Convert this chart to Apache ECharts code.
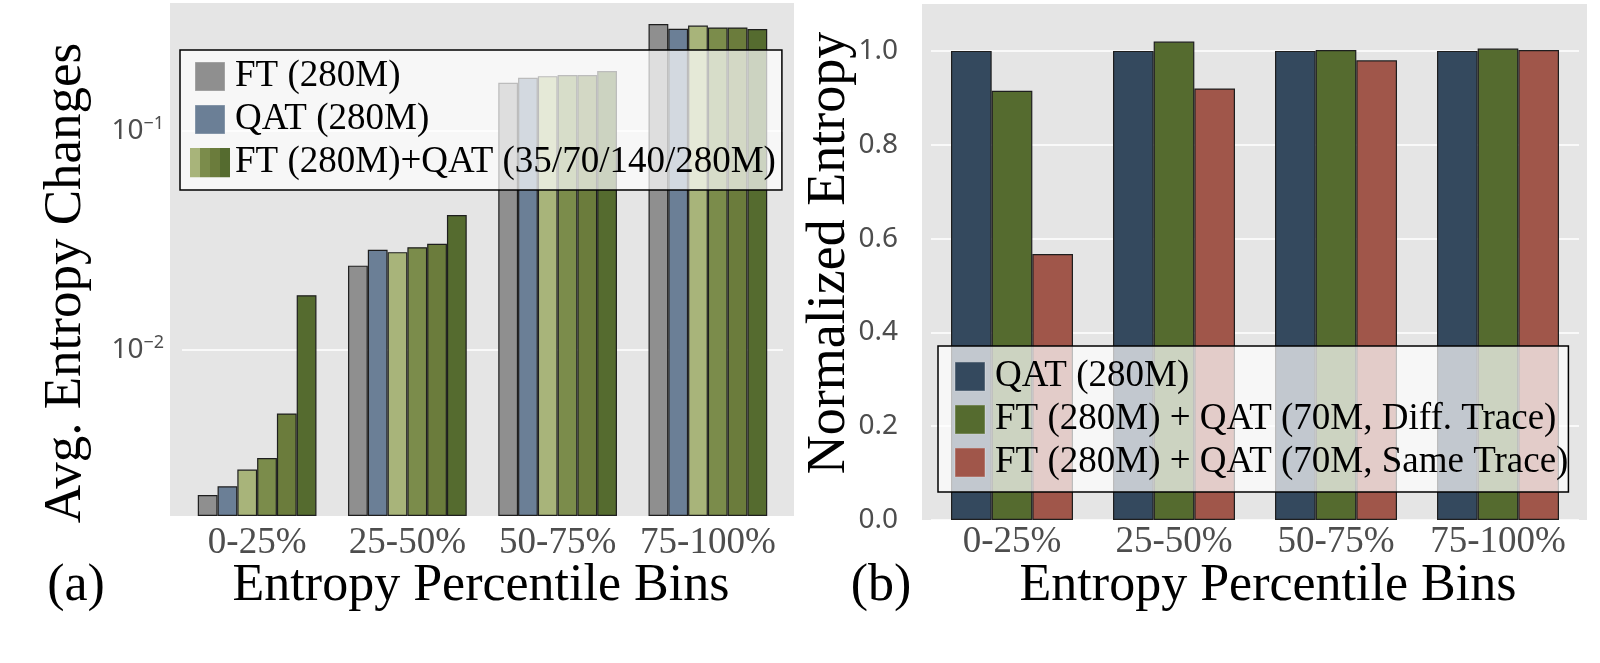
<!DOCTYPE html>
<html>
<head>
<meta charset="utf-8">
<script src="https://cdn.jsdelivr.net/npm/echarts@6/dist/echarts.min.js"></script>
</head>
<body style="margin:0;background:#fff">
<div id="container" style="width:1600px;height:663px"></div>
<script>
// ---- data ----
var bins = ['0-25%', '25-50%', '50-75%', '75-100%'];

// (a) avg. entropy changes (log scale)
var ftA    = [0.00218, 0.0243, 0.166, 0.308];
var qatA   = [0.00239, 0.0287, 0.175, 0.293];
var mix35  = [0.00285, 0.0280, 0.178, 0.303];
var mix70  = [0.00322, 0.0295, 0.180, 0.297];
var mix140 = [0.00514, 0.0306, 0.180, 0.297];
var mix280 = [0.0178, 0.0414, 0.188, 0.292];
var logTicks = [0.01, 0.1];
var logMinorTicks = [0.002, 0.003, 0.004, 0.005, 0.006, 0.007, 0.008, 0.009,
  0.02, 0.03, 0.04, 0.05, 0.06, 0.07, 0.08, 0.09, 0.2, 0.3];

// (b) normalized entropy
var qatB  = [1.0, 1.0, 1.0, 1.0];
var diffB = [0.915, 1.020, 1.002, 1.005];
var sameB = [0.567, 0.920, 0.980, 1.002];
var normTicks = [0, 0.2, 0.4, 0.6, 0.8, 1.0];

// ---- style ----
var serif = "'Liberation Serif', 'Times New Roman', serif";
var sans = "'Noto Sans', sans-serif";
var panelBg = '#e5e5e5';
var colA = ['#8f8f8f', '#6b7f96', '#a8b47a', '#7b8c4b', '#6b7c3c', '#556b2f'];
var colB = ['#34495e', '#556b2f', '#a0564a'];

function svgIcon(fills) {
  var s = '';
  if (fills.length === 1) {
    s = "<rect x='5' y='0.5' width='30' height='29' fill='" + fills[0] + "' stroke='rgba(255,255,255,0.35)'/>";
  } else {
    for (var i = 0; i < fills.length; i++) {
      s += "<rect x='" + (i * 10) + "' y='0' width='10' height='30' fill='" + fills[i] + "'/>";
    }
  }
  var svg = "<svg xmlns='http://www.w3.org/2000/svg' width='40' height='30' viewBox='0 0 40 30'>" + s + "</svg>";
  return 'image://data:image/svg+xml;charset=utf-8,' + encodeURIComponent(svg);
}

function bar(name, data, color, xi, yi, gap) {
  return {
    name: name, type: 'bar', data: data, xAxisIndex: xi, yAxisIndex: yi,
    barGap: '0%', barCategoryGap: gap,
    itemStyle: { color: color, borderColor: '#1e1e1e', borderWidth: 1.2 },
    emphasis: { disabled: true }
  };
}

var catAxis = function (gi, margin) {
  return {
    type: 'category', gridIndex: gi, data: bins,
    axisLine: { show: false }, axisTick: { show: false },
    axisLabel: { interval: 0, margin: margin, fontFamily: serif, fontSize: 37, color: '#4d4d4d' }
  };
};

function label(text, x, y, size, rot) {
  return {
    type: 'text', x: x, y: y, rotation: rot || 0,
    style: { text: text, font: size + "px 'Liberation Serif'", fill: '#000', align: 'center', verticalAlign: 'middle' }
  };
}

var chart = echarts.init(document.getElementById('container'));
var legendText = { fontFamily: serif, fontSize: 37, color: '#000', lineHeight: 37 };

chart.setOption({
  animation: false,
  backgroundColor: '#fff',
  graphic: [
    { type: 'rect', z: -10, shape: { x: 170, y: 3, width: 624, height: 513 }, style: { fill: panelBg } },
    { type: 'rect', z: -10, shape: { x: 922, y: 4, width: 665, height: 516 }, style: { fill: panelBg } },
    label('Avg. Entropy Changes', 66, 283, 53, Math.PI / 2),
    label('Normalized Entropy', 830, 253, 54, Math.PI / 2),
    label('Entropy Percentile Bins', 481, 586, 52),
    label('Entropy Percentile Bins', 1268, 586, 52),
    label('(a)', 76, 586, 52),
    label('(b)', 881, 586, 52)
  ],
  grid: [
    { left: 182, top: 3, width: 601, height: 513 },
    { left: 931, top: 4, width: 648, height: 516 }
  ],
  legend: [
    {
      orient: 'vertical', left: 180, top: 50, padding: [8, 6, 9, 10],
      itemWidth: 40, itemHeight: 30, itemGap: 6,
      backgroundColor: 'rgba(255,255,255,0.7)', borderColor: '#000', borderWidth: 1.5,
      textStyle: legendText, selectedMode: false,
      data: [
        { name: 'FT (280M)', icon: svgIcon([colA[0]]) },
        { name: 'QAT (280M)', icon: svgIcon([colA[1]]) },
        { name: 'FT (280M)+QAT (35/70/140/280M)', icon: svgIcon(colA.slice(2)) }
      ]
    },
    {
      orient: 'vertical', left: 938, top: 346, padding: [12, 0, 11, 12],
      itemWidth: 40, itemHeight: 30, itemGap: 6,
      backgroundColor: 'rgba(255,255,255,0.7)', borderColor: '#000', borderWidth: 1.5,
      textStyle: legendText, selectedMode: false,
      data: [
        { name: 'QAT (280M) ', icon: svgIcon([colB[0]]) },
        { name: 'FT (280M) + QAT (70M, Diff. Trace)', icon: svgIcon([colB[1]]) },
        { name: 'FT (280M) + QAT (70M, Same Trace)', icon: svgIcon([colB[2]]) }
      ]
    }
  ],
  xAxis: [catAxis(0, 9), catAxis(1, 4)],
  yAxis: [
    {
      type: 'log', gridIndex: 0, position: 'left', offset: 12,
      min: 0.00175, max: 0.384, startValue: 0.00175,
      axisLine: { show: false },
      axisTick: { customValues: logTicks, length: 7, lineStyle: { color: '#333', width: 1.5 } },
      axisLabel: {
        customValues: logTicks, margin: 6, color: '#4d4d4d', fontFamily: sans, fontSize: 28,
        formatter: function (v) {
          var e = Math.round(Math.log(v) / Math.LN10);
          return '10{s|\u2212' + Math.abs(e) + '}';
        },
        rich: { s: { fontSize: 18, fontFamily: sans, color: '#4d4d4d', verticalAlign: 'top', padding: [0, 0, 14, 0] } }
      },
      splitLine: { show: true, lineStyle: { color: '#fff', width: 1.5 } }
    },
    {
      type: 'log', gridIndex: 0, position: 'left', offset: 12,
      min: 0.00175, max: 0.384,
      axisLine: { show: false },
      axisTick: { customValues: logMinorTicks, length: 4, lineStyle: { color: '#333', width: 1.5 } },
      axisLabel: { show: false },
      splitLine: { show: false }
    },
    {
      type: 'value', gridIndex: 1, position: 'left', offset: 9,
      min: 0, max: 1.1,
      axisLine: { show: false },
      axisTick: { customValues: normTicks, length: 8, lineStyle: { color: '#333', width: 1.5 } },
      axisLabel: {
        customValues: normTicks, margin: 24, color: '#4d4d4d', fontFamily: sans, fontSize: 28,
        formatter: function (v) { return v.toFixed(1); }
      },
      splitLine: { show: true, lineStyle: { color: '#fff', width: 1.5 } }
    }
  ],
  series: [
    bar('FT (280M)', ftA, colA[0], 0, 0, '21%'),
    bar('QAT (280M)', qatA, colA[1], 0, 0, '21%'),
    bar('FT (280M)+QAT (35/70/140/280M)', mix35, colA[2], 0, 0, '21%'),
    bar('FT (280M)+QAT (70M)', mix70, colA[3], 0, 0, '21%'),
    bar('FT (280M)+QAT (140M)', mix140, colA[4], 0, 0, '21%'),
    bar('FT (280M)+QAT (280M)', mix280, colA[5], 0, 0, '21%'),
    bar('QAT (280M) ', qatB, colB[0], 1, 2, '24.7%'),
    bar('FT (280M) + QAT (70M, Diff. Trace)', diffB, colB[1], 1, 2, '24.7%'),
    bar('FT (280M) + QAT (70M, Same Trace)', sameB, colB[2], 1, 2, '24.7%')
  ]
});
</script>
</body>
</html>
